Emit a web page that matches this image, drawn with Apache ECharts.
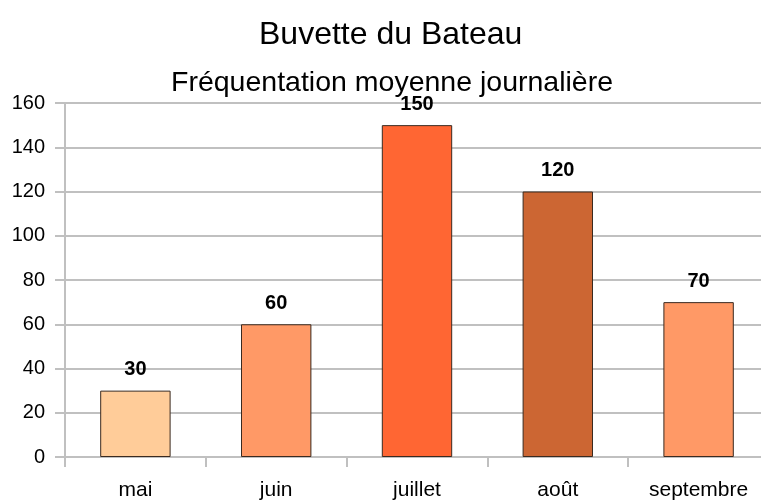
<!DOCTYPE html>
<html lang="fr">
<head>
  <meta charset="UTF-8">
  <title>Buvette du Bateau</title>
  <script type="text/javascript" src="https://fastly.jsdelivr.net/npm/echarts@6.0.0/dist/echarts.min.js"></script>
  <style>
    html, body, #container {
      width: 100%;
      height: 100%;
      margin: 0;
      padding: 0;
      overflow: hidden;
      background: #fff;
    }
  </style>
</head>
<body>
  <div id="container"></div>
  <script type="text/javascript">
    var months = ['mai', 'juin', 'juillet', 'août', 'septembre'];
    var visitors = [30, 60, 150, 120, 70];
    var barColors = ['#ffcc99', '#ff9966', '#ff6633', '#cc6633', '#ff9966'];

    var font = '"Liberation Sans", Arial, sans-serif';
    var gray = '#c0c0c0';

    var myChart = echarts.init(document.getElementById('container'), null, { renderer: 'canvas' });
    myChart.setOption({
      animation: false,
      // titles are centred on the plot, not the page, hence the fixed lefts
      title: [
        { text: 'Buvette du Bateau', left: 254, top: 14,
          textStyle: { fontFamily: font, fontSize: 32, fontWeight: 'normal', color: '#000' } },
        { text: 'Fréquentation moyenne journalière', left: 166, top: 64,
          textStyle: { fontFamily: font, fontSize: 28.5, fontWeight: 'normal', color: '#000' } }
      ],
      grid: { left: 65, right: -8, top: 103, bottom: 43, containLabel: false, outerBoundsMode: 'none' },
      xAxis: {
        type: 'category',
        data: months,
        axisLine: { lineStyle: { color: gray, width: 2 } },
        axisTick: { show: true, length: 10, lineStyle: { color: gray, width: 2 } },
        axisLabel: { fontFamily: font, fontSize: 21, color: '#000', margin: 23 }
      },
      yAxis: {
        type: 'value',
        min: 0,
        max: 160,
        interval: 20,
        axisLine: { show: true, lineStyle: { color: gray, width: 2 } },
        axisTick: { show: true, length: 10, lineStyle: { color: gray, width: 2 } },
        axisLabel: { fontFamily: font, fontSize: 20, color: '#000', margin: 20 },
        splitLine: { lineStyle: { color: gray, width: 2 } }
      },
      series: [{
        type: 'bar',
        barWidth: '50%',
        data: visitors.map(function (v, i) {
          return { value: v, itemStyle: { color: barColors[i] } };
        }),
        itemStyle: { borderColor: '#3a2a20', borderWidth: 1 },
        label: {
          show: true,
          position: 'top',
          distance: 11,
          fontFamily: font,
          fontSize: 20,
          fontWeight: 'bold',
          color: '#000'
        }
      }]
    });
  </script>
</body>
</html>
